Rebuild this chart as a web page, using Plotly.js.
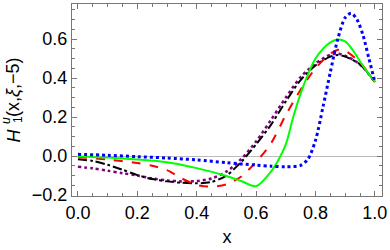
<!DOCTYPE html>
<html><head><meta charset="utf-8">
<script src="https://cdn.plot.ly/plotly-3.0.1.min.js"></script>
<style>html,body{margin:0;padding:0;background:#fff}#chart{width:390px;height:250px}</style>
</head><body><div id="chart"></div>
<script>
const greenX = [0, 0.1, 0.2, 0.3, 0.4, 0.5, 0.55, 0.6, 0.65, 0.675, 0.7, 0.725, 0.75, 0.775, 0.8, 0.825, 0.85, 0.875, 0.9, 0.925, 0.95, 0.975, 1.0];
const greenY = [-0.002, -0.008, -0.018, -0.032, -0.062, -0.102, -0.128, -0.155, -0.08, -0.02, 0.06, 0.2, 0.32, 0.42, 0.5, 0.55, 0.583, 0.598, 0.588, 0.545, 0.485, 0.43, 0.38];

const blueX = [0, 0.1, 0.2, 0.3, 0.4, 0.5, 0.6, 0.65, 0.7, 0.75, 0.775, 0.8, 0.825, 0.85, 0.875, 0.9, 0.92, 0.94, 0.96, 0.98, 1.0];
const blueY = [0.009, 0.004, -0.003, -0.01, -0.02, -0.034, -0.047, -0.052, -0.055, -0.048, -0.015, 0.08, 0.25, 0.43, 0.6, 0.71, 0.733, 0.7, 0.62, 0.5, 0.38];

const redX = [0, 0.1, 0.2, 0.25, 0.3, 0.35, 0.4, 0.45, 0.5, 0.55, 0.6, 0.65, 0.7, 0.75, 0.8, 0.85, 0.875, 0.9, 0.95, 1.0];
const redY = [-0.006, -0.018, -0.036, -0.05, -0.072, -0.115, -0.148, -0.157, -0.145, -0.105, -0.03, 0.065, 0.21, 0.34, 0.45, 0.525, 0.545, 0.54, 0.48, 0.38];

const blackX = [0, 0.05, 0.1, 0.15, 0.2, 0.25, 0.3, 0.35, 0.4, 0.45, 0.5, 0.55, 0.6, 0.65, 0.7, 0.75, 0.8, 0.85, 0.875, 0.9, 0.95, 1.0];
const blackY = [-0.017, -0.025, -0.045, -0.07, -0.098, -0.118, -0.13, -0.137, -0.14, -0.133, -0.1, -0.03, 0.06, 0.16, 0.28, 0.39, 0.465, 0.51, 0.518, 0.51, 0.47, 0.38];

const purpleX = [0, 0.05, 0.1, 0.15, 0.2, 0.25, 0.3, 0.35, 0.4, 0.45, 0.5, 0.55, 0.6, 0.65, 0.7, 0.75, 0.8, 0.85, 0.875, 0.9, 0.95, 1.0];
const purpleY = [-0.055, -0.063, -0.075, -0.088, -0.1, -0.115, -0.125, -0.13, -0.128, -0.115, -0.08, -0.015, 0.075, 0.185, 0.3, 0.405, 0.475, 0.52, 0.525, 0.515, 0.47, 0.38];

const xTickVals = [0, 0.2, 0.4, 0.6, 0.8, 1.0];
const xTickText = ['0.0', '0.2', '0.4', '0.6', '0.8', '1.0'];
const yTickVals = [-0.2, 0, 0.2, 0.4, 0.6];
const yTickText = ['\u22120.2', '0.0', '0.2', '0.4', '0.6'];

// y-axis title pieces: H, superscript u stacked over subscript 1, argument list
const yTitleMain = '<i>H</i>';
const yTitleSup = '<i>u</i>';
const yTitleSub = '1';
const yTitleArgs = '(x,<i>\u03be</i>,\u22125)';

function tr(x, y, color, dash, width) {
  return {x: x, y: y, type: 'scatter', mode: 'lines',
    line: {color: color, dash: dash, width: width, shape: 'spline', smoothing: 0.8},
    hoverinfo: 'skip', showlegend: false};
}

const data = [
  tr(purpleX, purpleY, '#800080', 'dot', 2.5),
  tr(blackX, blackY, '#000000', 'dashdot', 2),
  tr(redX, redY, '#ff0000', 'dash', 2),
  tr(greenX, greenY, '#00ff00', 'solid', 2),
  tr(blueX, blueY, '#0000ff', 'dot', 3)
];

const fam = 'Liberation Sans, Arial, sans-serif';
const font = {family: fam, size: 18, color: '#000'};
const smallFont = {family: fam, size: 12, color: '#000'};
const axisCommon = {
  showgrid: false, showline: true, linecolor: '#777', linewidth: 1, mirror: 'allticks',
  ticks: 'inside', ticklen: 5, tickwidth: 1, tickcolor: '#777', tickfont: font,
  tickmode: 'array'
};

function ann(text, x, y, f) {
  return {text: text, xref: 'paper', yref: 'paper', x: x, y: y, xanchor: 'center', yanchor: 'middle',
    textangle: -90, showarrow: false, font: f, borderpad: 0};
}

const layout = {
  width: 390, height: 250,
  margin: {l: 72, r: 8, t: 4, b: 54},
  paper_bgcolor: '#fff', plot_bgcolor: '#fff',
  font: font,
  xaxis: Object.assign({}, axisCommon, {
    range: [-0.02, 1.024], tickvals: xTickVals, ticktext: xTickText, zeroline: false,
    minor: {tickvals: [0.05,0.1,0.15,0.25,0.3,0.35,0.45,0.5,0.55,0.65,0.7,0.75,0.85,0.9,0.95], ticks: 'inside', ticklen: 3, tickcolor: '#777'},
    title: {text: 'x', font: font, standoff: 8}
  }),
  yaxis: Object.assign({}, axisCommon, {
    range: [-0.205, 0.78], tickvals: yTickVals, ticktext: yTickText,
    zeroline: true, zerolinecolor: '#bbb', zerolinewidth: 1,
    minor: {tickvals: [-0.15,-0.1,-0.05,0.05,0.1,0.15,0.25,0.3,0.35,0.45,0.5,0.55,0.65,0.7,0.75], ticks: 'inside', ticklen: 3, tickcolor: '#777'}
  }),
  annotations: [
    ann(yTitleMain, -0.19, 0.315, font),
    ann(yTitleSup, -0.213, 0.396, smallFont),
    ann(yTitleSub, -0.174, 0.396, smallFont),
    ann(yTitleArgs, -0.19, 0.568, font)
  ]
};

Plotly.newPlot('chart', data, layout, {staticPlot: true, displayModeBar: false});
</script></body></html>
